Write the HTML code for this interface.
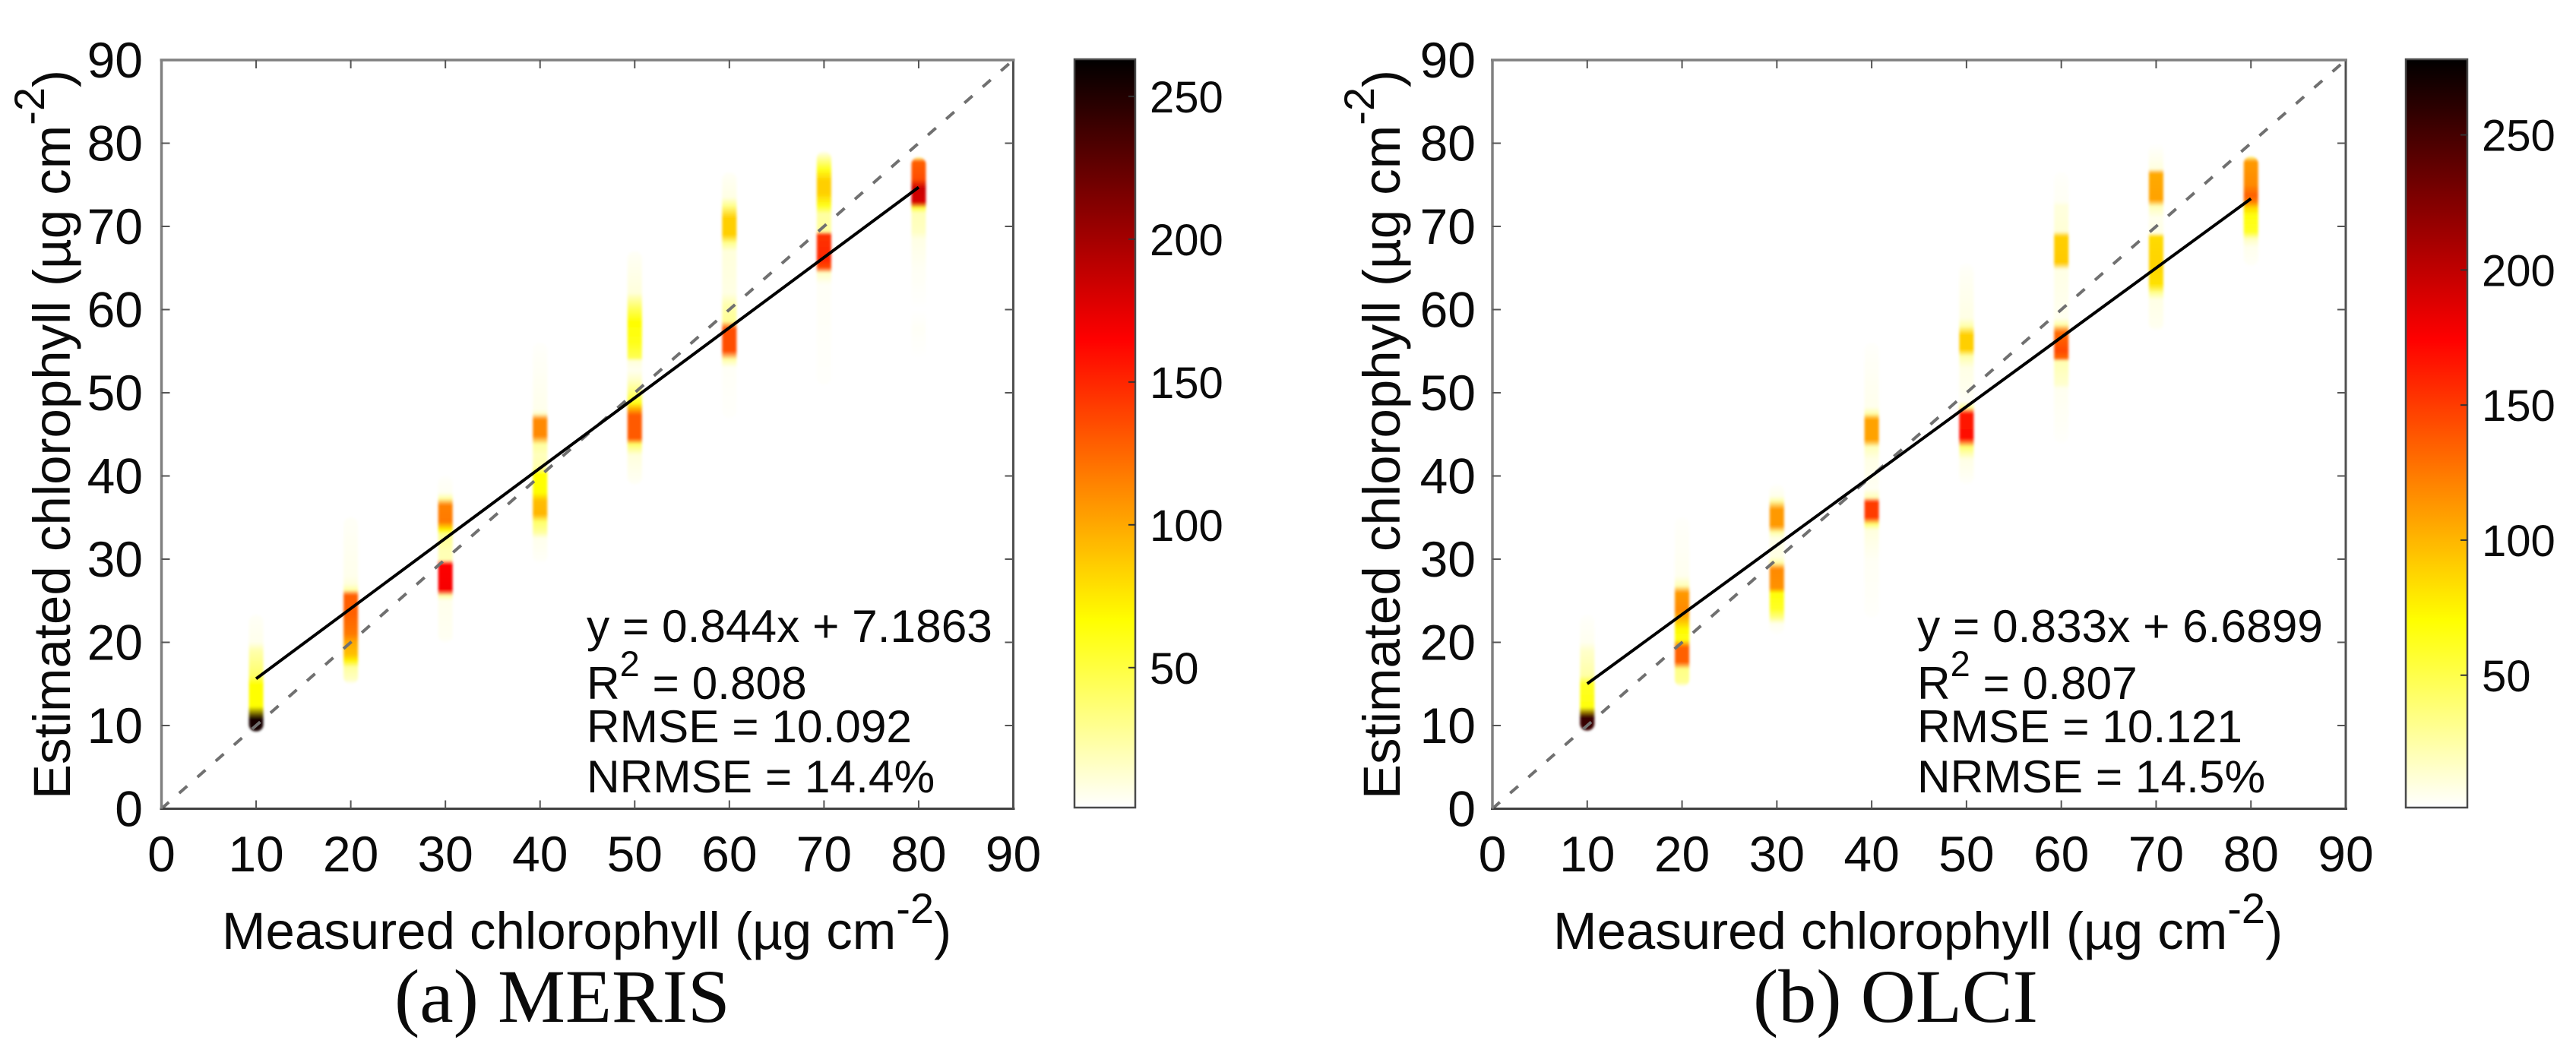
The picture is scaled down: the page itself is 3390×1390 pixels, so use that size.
<!DOCTYPE html>
<html lang="en">
<head>
<meta charset="utf-8">
<title>Estimated vs measured chlorophyll: MERIS and OLCI</title>
<style>
html,body{margin:0;padding:0;background:#fff;width:3390px;height:1390px;overflow:hidden}
svg{display:block}
text{font-family:"Liberation Sans",Arial,sans-serif;fill:#0a0a0a}
.serif{font-family:"Liberation Serif","Times New Roman",serif}
</style>
</head>
<body>
<svg id="figure" xmlns="http://www.w3.org/2000/svg" width="3390" height="1390" viewBox="0 0 3390 1390">
  <rect x="0" y="0" width="3390" height="1390" fill="#fff"/>
  <defs id="defs">
    <filter id="soft" x="-60%" y="-5%" width="220%" height="110%"><feGaussianBlur stdDeviation="1.6"/></filter>
  </defs>
  <g id="panel-a"></g>
  <g id="panel-b"></g>
  <text class="serif" x="519" y="1345" font-size="100">(a) MERIS</text>
  <text class="serif" x="2307" y="1345" font-size="100">(b) OLCI</text>
</svg>
<script>
const measuredCategories = [10, 20, 30, 40, 50, 60, 70, 80];
const axisTicks = [0, 10, 20, 30, 40, 50, 60, 70, 80, 90];

const merisEstimated = [
  [23.3, 20, 19, 16, 15, 13, 12.3, 10.8, 9.3],
  [35, 28, 27, 26.3, 25.7, 23.5, 21, 20, 18.5, 17.8, 17, 15.5, 15],
  [40, 38, 37.3, 36.5, 34.5, 33.5, 33, 31, 29.9, 29.4, 26.3, 25.6, 25, 20.5, 20],
  [56, 48, 47.5, 46.8, 44.8, 43.8, 42.5, 41, 40.3, 38, 37, 35.4, 34.5, 33.2, 32.5, 30, 29.5],
  [67, 62, 61.5, 60, 58.5, 56, 54.2, 53.8, 52.7, 51.5, 50, 48.8, 48, 47.3, 44.5, 43.8, 42.5, 39],
  [76.5, 73.5, 72.5, 71, 69, 68, 67, 62, 60.5, 58.6, 57.7, 55, 54, 53, 47],
  [79, 78, 76.8, 75.5, 74, 72.5, 71.5, 69.4, 69, 66, 65, 64.4, 63, 51],
  [78.3, 77.8, 75.7, 74.6, 72.9, 72.2, 71.6, 69.3, 68.5, 65.3, 60, 57.7, 54]
];
const merisDensity = [
  [3, 6, 22, 40, 65, 65, 67, 255, 255],
  [3, 6, 10, 24, 128, 128, 118, 100, 90, 72, 26, 16, 2],
  [2, 4, 24, 115, 118, 70, 30, 20, 20, 165, 168, 24, 6, 4, 2],
  [2, 6, 14, 112, 112, 26, 18, 22, 65, 67, 92, 95, 40, 26, 6, 3, 0],
  [3, 10, 20, 45, 67, 60, 45, 10, 5, 15, 35, 60, 100, 130, 130, 40, 10, 3],
  [3, 8, 30, 85, 85, 30, 10, 8, 22, 28, 135, 135, 24, 3, 2],
  [5, 30, 60, 85, 85, 60, 25, 26, 145, 150, 135, 16, 3, 2],
  [30, 128, 135, 185, 180, 50, 20, 16, 8, 4, 1, 3, 1]
];
const olciEstimated = [
  [23.3, 20, 19, 16, 15, 13, 12.2, 11, 9.4],
  [35, 28, 26.8, 26, 23.8, 22.8, 21.5, 20.3, 19.4, 17.6, 16.8, 15.2, 14.7],
  [39, 37.6, 37, 36, 34, 33.2, 32.5, 30.3, 29.6, 28.8, 26.5, 25.9, 24, 23, 22.2, 21],
  [56, 48.3, 47.5, 46.8, 44.3, 43.5, 42, 38.5, 37.4, 36.9, 35, 34.2, 33.5, 30, 23],
  [65.5, 64, 59, 58, 57, 55.2, 54.4, 53, 50.6, 49, 48.2, 47.5, 44.5, 43.5, 42, 39],
  [76.5, 73, 72.5, 69.4, 68.8, 65.6, 64.8, 59, 58.2, 57.3, 55, 54.1, 53.8, 51, 50.5, 44],
  [80, 78, 76.9, 76.4, 73.2, 72.4, 71, 69.2, 68.8, 65.4, 63, 62, 61.2, 58, 57.5],
  [78.4, 77.8, 75, 73.7, 73, 72.2, 71.3, 69.3, 68.5, 67.5, 65.3]
];
const olciDensity = [
  [2, 5, 15, 25, 60, 65, 67, 255, 255],
  [2, 5, 20, 112, 118, 100, 72, 65, 135, 135, 34, 30, 5],
  [2, 6, 24, 112, 112, 24, 8, 8, 24, 118, 115, 68, 60, 35, 5, 2],
  [2, 6, 24, 108, 108, 20, 8, 4, 20, 150, 150, 40, 10, 4, 2],
  [2, 4, 8, 24, 90, 90, 24, 8, 6, 3, 30, 165, 168, 40, 8, 2],
  [2, 4, 10, 12, 90, 92, 8, 5, 24, 130, 145, 130, 22, 14, 5, 2],
  [1, 6, 10, 105, 108, 20, 6, 8, 85, 88, 82, 30, 8, 5, 2],
  [30, 112, 118, 135, 125, 85, 67, 60, 18, 6, 3]
];

const merisFit = [0.844, 7.1863];
const olciFit = [0.833, 6.6899];
const identityLine = [0, 90];
const merisColorRange = [1, 263];
const olciColorRange = [1, 278];
const colorbarTicks = [50, 100, 150, 200, 250];
const merisStats = ["y = 0.844x + 7.1863", "0.808", "RMSE = 10.092", "NRMSE = 14.4%"];
const olciStats = ["y = 0.833x + 6.6899", "0.807", "RMSE = 10.121", "NRMSE = 14.5%"];

const SVG_NS = "http://www.w3.org/2000/svg";
const defs = document.getElementById("defs");

function make(tag, parent, attrs) {
  const el = document.createElementNS(SVG_NS, tag);
  for (const k in attrs) el.setAttribute(k, attrs[k]);
  parent.appendChild(el);
  return el;
}

// Inverted "hot" colormap, fraction 0 = white, 1 = black
function hotColor(t) {
  t = Math.max(0, Math.min(1, t));
  let r = 255, g = 255, b = 255;
  if (t < 0.25) {
    b = 255 * (1 - t / 0.25);
  } else if (t < 0.625) {
    b = 0;
    g = 255 * (1 - (t - 0.25) / 0.375);
  } else {
    b = 0;
    g = 0;
    r = 255 * (1 - (t - 0.625) / 0.375);
  }
  return "rgb(" + Math.round(r) + "," + Math.round(g) + "," + Math.round(b) + ")";
}

function drawPanel(group, key, layout, estimated, density, fit, colorRange, stats) {
  const xScale = v => layout.x0 + (v - 0) * (layout.x90 - layout.x0) / 90;
  const yScale = v => layout.y0 + (v - 0) * (layout.y90 - layout.y0) / 90;
  const colorFrac = v => (v - colorRange[0]) / (colorRange[1] - colorRange[0]);
  const barY = v => layout.barBottom - colorFrac(v) * (layout.barBottom - layout.barTop);

  // Density columns
  measuredCategories.forEach((m, i) => {
    const ests = estimated[i];
    const dens = density[i];
    const hi = Math.max(...ests);
    const lo = Math.min(...ests);
    const top = yScale(hi);
    const h = yScale(lo) - top;
    const gradId = key + "-col-" + i;
    const grad = make("linearGradient", defs, { id: gradId, x1: 0, y1: 0, x2: 0, y2: 1 });
    ests.forEach((e, j) => {
      make("stop", grad, {
        offset: ((yScale(e) - top) / h).toFixed(4),
        "stop-color": hotColor(colorFrac(dens[j]))
      });
    });
    const col = make("rect", group, {
      x: xScale(m) - 9.5, y: top, width: 19, height: h, rx: 9, ry: 9,
      fill: "url(#" + gradId + ")", filter: "url(#soft)"
    });
    
    
  });

  // 1:1 line
  const diag = make("line", group, {
    x1: xScale(identityLine[0]), y1: yScale(identityLine[0]),
    x2: xScale(identityLine[1]), y2: yScale(identityLine[1]),
    stroke: "#707070", "stroke-width": 4, "stroke-dasharray": "14 18", "stroke-dashoffset": 1
  });
  
  

  // Regression line
  const fitStart = measuredCategories[0];
  const fitEnd = measuredCategories[measuredCategories.length - 1];
  const reg = make("line", group, {
    x1: xScale(fitStart), y1: yScale(fit[0] * fitStart + fit[1]),
    x2: xScale(fitEnd), y2: yScale(fit[0] * fitEnd + fit[1]),
    stroke: "#000", "stroke-width": 4
  });
  
  

  // Axis box
  const axisBottom = make("line", group, { x1: xScale(0) - 2, x2: xScale(90) + 2, y1: yScale(0), y2: yScale(0), stroke: "#404040", "stroke-width": 3 });
  
  
  const axisRight = make("line", group, { x1: xScale(90), x2: xScale(90), y1: yScale(90), y2: yScale(0), stroke: "#505050", "stroke-width": 3 });
  
  
  const axisTop = make("line", group, { x1: xScale(0) - 2, x2: xScale(90) + 2, y1: yScale(90), y2: yScale(90), stroke: "#808080", "stroke-width": 3.5 });
  
  
  const axisLeft = make("line", group, { x1: xScale(0), x2: xScale(0), y1: yScale(90), y2: yScale(0), stroke: "#808080", "stroke-width": 3.5 });
  
  

  // Ticks and tick labels
  axisTicks.forEach(t => {
    if (t > 0 && t < 90) {
      [[yScale(0), yScale(0) - 11], [yScale(90), yScale(90) + 11]].forEach(p => {
        const tick = make("line", group, { x1: xScale(t), x2: xScale(t), y1: p[0], y2: p[1], stroke: "#555", "stroke-width": 2 });
        
        
      });
      [[xScale(0), xScale(0) + 11], [xScale(90), xScale(90) - 11]].forEach(p => {
        const tick = make("line", group, { x1: p[0], x2: p[1], y1: yScale(t), y2: yScale(t), stroke: "#555", "stroke-width": 2 });
        
        
      });
    }
    const xl = make("text", group, { x: xScale(t), y: 1147, "font-size": 66, "text-anchor": "middle" });
    xl.textContent = t;
    
    
    const yl = make("text", group, { x: layout.yLabelRight, y: yScale(t) + 23, "font-size": 66, "text-anchor": "end" });
    yl.textContent = t;
    
    
  });

  // Axis titles
  const xTitle = make("text", group, { x: layout.xTitleX, y: 1249, "font-size": 69 });
  
  
  addTitle(xTitle, "Measured chlorophyll (µg cm");

  const yTitle = make("text", group, { transform: "translate(" + layout.yTitleX + ",1052) rotate(-90)", x: 0, y: 0, "font-size": 69 });
  
  
  addTitle(yTitle, "Estimated chlorophyll (µg cm");

  // Statistics
  const lines = [845, 920, 977, 1043];
  stats.forEach((s, i) => {
    const st = make("text", group, { x: layout.statsX, y: lines[i], "font-size": 60.4 });
    
    
    if (i === 1) {
      const a = make("tspan", st, {});
      a.textContent = "R";
      const b = make("tspan", st, { "font-size": 47, dy: -30 });
      b.textContent = "2";
      const c = make("tspan", st, { dy: 30 });
      c.textContent = " = " + s;
    } else {
      st.textContent = s;
    }
  });

  // Colorbar
  const barGradId = key + "-colorbar-gradient";
  const barGrad = make("linearGradient", defs, { id: barGradId, x1: 0, y1: 1, x2: 0, y2: 0 });
  for (let i = 0; i <= 64; i++) {
    make("stop", barGrad, { offset: (i / 64).toFixed(4), "stop-color": hotColor(i / 64) });
  }
  const bar = make("rect", group, {
    x: layout.barX, y: layout.barTop, width: layout.barW, height: layout.barBottom - layout.barTop,
    fill: "url(#" + barGradId + ")", stroke: "#4a4a4a", "stroke-width": 2.5
  });
  
  
  colorbarTicks.forEach(t => {
    const tick = make("line", group, {
      x1: layout.barX + layout.barW - 9, x2: layout.barX + layout.barW,
      y1: barY(t), y2: barY(t), stroke: "#333", "stroke-width": 2
    });
    
    
    const lab = make("text", group, { x: layout.barX + layout.barW + 19, y: barY(t) + 21, "font-size": 58 });
    lab.textContent = t;
    
    
  });
}

function addTitle(node, base) {
  const a = make("tspan", node, {});
  a.textContent = base;
  const b = make("tspan", node, { "font-size": 56, dy: -34 });
  b.textContent = "-2";
  const c = make("tspan", node, { dy: 34 });
  c.textContent = ")";
}

drawPanel(document.getElementById("panel-a"), "meris",
  { x0: 212.5, x90: 1333.5, y0: 1064.5, y90: 79, yLabelRight: 188, xTitleX: 292, yTitleX: 92, statsX: 772,
    barX: 1414, barW: 80, barTop: 78, barBottom: 1063 },
  merisEstimated, merisDensity, merisFit, merisColorRange, merisStats);

drawPanel(document.getElementById("panel-b"), "olci",
  { x0: 1964, x90: 3087, y0: 1064.5, y90: 79, yLabelRight: 1942, xTitleX: 2044, yTitleX: 1842, statsX: 2523,
    barX: 3166, barW: 81, barTop: 78, barBottom: 1063 },
  olciEstimated, olciDensity, olciFit, olciColorRange, olciStats);
</script>
</body>
</html>
